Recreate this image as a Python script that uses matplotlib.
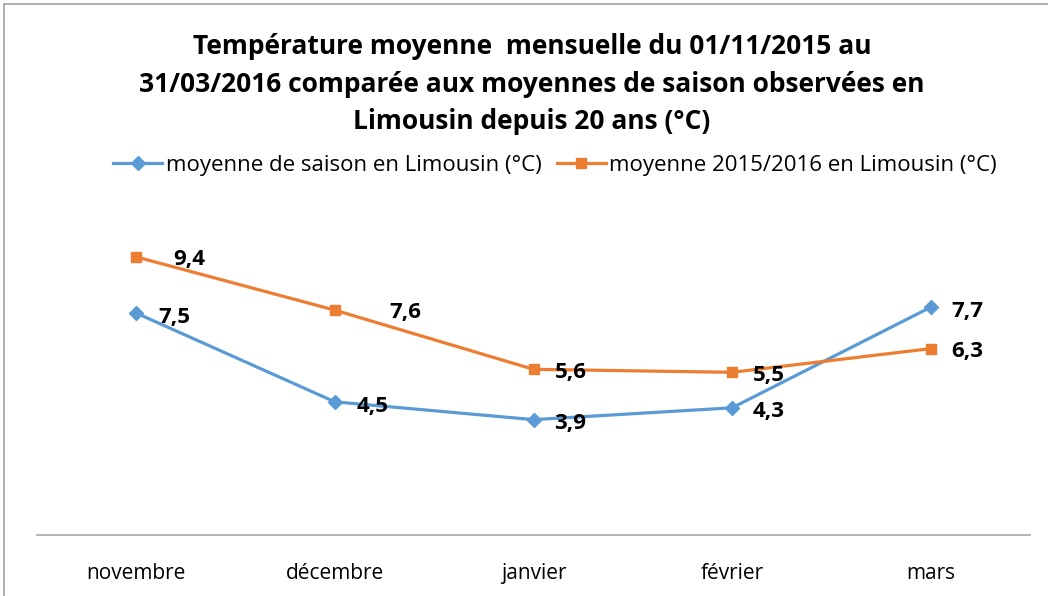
import matplotlib
matplotlib.use('Agg')
import matplotlib.pyplot as plt
from matplotlib.patches import Rectangle

mois = ['novembre', 'décembre', 'janvier', 'février', 'mars']
saison = [7.5, 4.5, 3.9, 4.3, 7.7]
annee = [9.4, 7.6, 5.6, 5.5, 6.3]
lab_saison = 'moyenne de saison en Limousin (°C)'
lab_annee = 'moyenne 2015/2016 en Limousin (°C)'
titre = ('Température moyenne  mensuelle du 01/11/2015 au\n'
         '31/03/2016 comparée aux moyennes de saison observées en\n'
         'Limousin depuis 20 ans (°C)')

plt.rcParams['font.family'] = ['Open Sans', 'DejaVu Sans']

bleu = '#5B9BD5'
orange = '#ED7D31'

W, H = 1048, 596
fig = plt.figure(figsize=(W/100, H/100), dpi=100)
ax = fig.add_axes([37/W, 61/H, 993/W, 355/H])

x = list(range(len(mois)))
ax.plot(x, saison, color=bleu, lw=2.3, marker='D', ms=7, label=lab_saison)
ax.plot(x, annee, color=orange, lw=2.3, marker='s', ms=7.5, label=lab_annee)

# decalages des etiquettes (pixels)
dx_saison = [22, 22, 21, 21, 21]
dx_annee = [37, 54, 21, 21, 21]
for i in x:
    ax.annotate(f'{saison[i]:.1f}'.replace('.', ','), (i, saison[i]),
                xytext=(dx_saison[i]*0.72, -3), textcoords='offset points',
                ha='left', va='center', fontsize=16, fontweight='bold')
    ax.annotate(f'{annee[i]:.1f}'.replace('.', ','), (i, annee[i]),
                xytext=(dx_annee[i]*0.72, -2), textcoords='offset points',
                ha='left', va='center', fontsize=16, fontweight='bold')

ax.set_xlim(-0.5, 4.5)
ax.set_ylim(0, 12)
ax.set_xticks(x)
ax.set_xticklabels(mois, fontsize=15)
ax.tick_params(axis='x', length=0, pad=20)
ax.set_yticks([])
for s in ['top', 'right', 'left']:
    ax.spines[s].set_visible(False)
ax.spines['bottom'].set_color('#A6A6A6')
ax.spines['bottom'].set_linewidth(1.2)

fig.text(532/W, 1 - 33/H, titre, ha='center', va='top', fontsize=19,
         fontweight='bold', linespacing=1.5)
fig.legend(loc='center', bbox_to_anchor=(555/W, 1 - 165/H), ncol=2,
           frameon=False, fontsize=16, handlelength=2.2, columnspacing=0.7,
           handletextpad=0.15)

fig.add_artist(Rectangle((4/W, -0.1), 1.2, 1.1 - 4/H, transform=fig.transFigure,
                         fill=False, edgecolor='#A0A0A0', lw=1.2))

fig.savefig('out.png', dpi=100)
